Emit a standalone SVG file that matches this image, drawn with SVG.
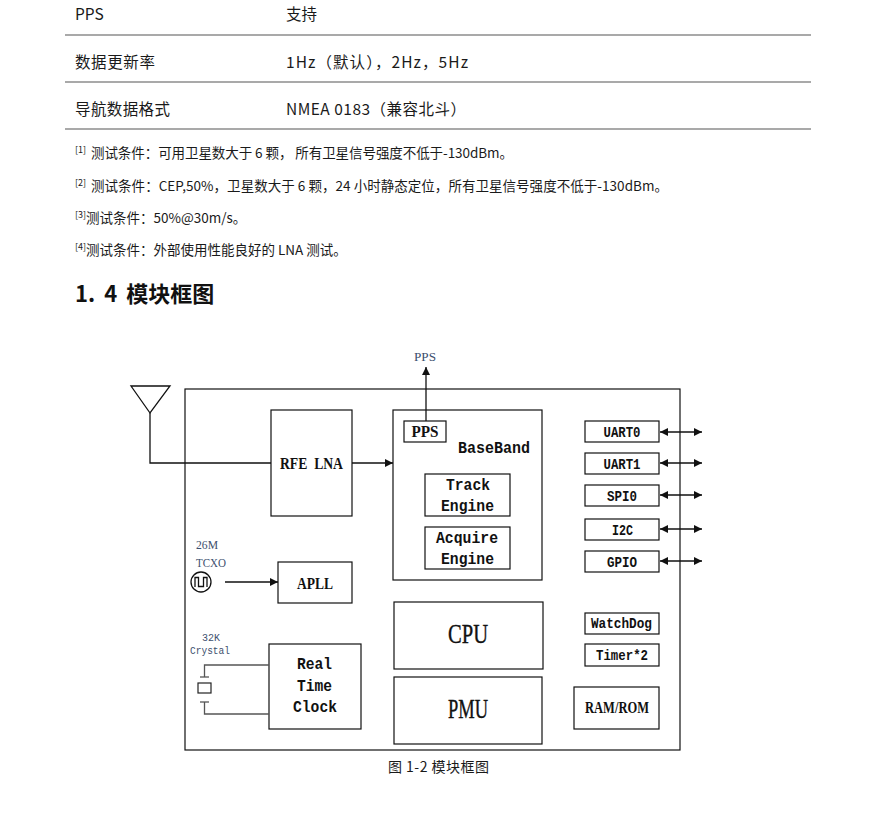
<svg xmlns="http://www.w3.org/2000/svg" width="877" height="837" viewBox="0 0 877 837">
<style>
.t{font-family:"Noto Sans CJK SC","Noto Sans",sans-serif;fill:#1a1a1a}
.b{font-size:15.5px}
.f{font-size:13.5px}
.sup{font-size:9px}
.h{font-size:22px;font-weight:bold;fill:#111}
.rule{stroke:#8c8c8c;stroke-width:1.3}
.box{fill:#fff;stroke:#111;stroke-width:1.2}
.lbl{font-family:"Liberation Serif",serif;font-weight:bold;fill:#111;text-anchor:middle}
.big{font-family:"Liberation Serif",serif;fill:#111;stroke:#111;stroke-width:0.4;text-anchor:middle}
.mono{font-family:"Liberation Mono",monospace;font-weight:bold;fill:#111;text-anchor:middle}
.ann{font-family:"Liberation Serif",serif;fill:#3d4f6e;text-anchor:middle}
.amono{font-family:"Liberation Mono",monospace;fill:#3d4f6e;text-anchor:middle}
.ln{stroke:#111;stroke-width:1.3;fill:none}
.gl{stroke:#555;stroke-width:1.3;fill:none}
</style>
<defs>
<marker id="ah" viewBox="0 0 10 10" refX="10" refY="5" markerWidth="9" markerHeight="8" markerUnits="userSpaceOnUse" orient="auto-start-reverse">
<path d="M0,0 L10,5 L0,10 z" fill="#111"/>
</marker>
</defs>
<rect width="877" height="837" fill="#fff"/>

<g id="table">
<text class="t b" x="75" y="20">PPS</text>
<text class="t b" x="286" y="20">支持</text>
<line class="rule" x1="65" y1="35" x2="811" y2="35"/>
<text class="t b" x="75" y="68" textLength="80">数据更新率</text>
<text class="t b" x="286" y="68" textLength="182">1Hz（默认），2Hz，5Hz</text>
<line class="rule" x1="65" y1="82" x2="811" y2="82"/>
<text class="t b" x="75" y="115" textLength="95">导航数据格式</text>
<text class="t b" x="286" y="115" textLength="180">NMEA 0183（兼容北斗）</text>
<line class="rule" x1="65" y1="129" x2="811" y2="129"/>
</g>

<g id="notes">
<text class="t sup" x="75" y="153">[1]</text>
<text class="t f" x="91" y="158" textLength="422">测试条件：可用卫星数大于 6 颗， 所有卫星信号强度不低于-130dBm。</text>
<text class="t sup" x="75" y="186">[2]</text>
<text class="t f" x="91" y="191" textLength="577">测试条件：CEP,50%，卫星数大于 6 颗，24 小时静态定位，所有卫星信号强度不低于-130dBm。</text>
<text class="t sup" x="75" y="218">[3]</text>
<text class="t f" x="86" y="223">测试条件：50%@30m/s。</text>
<text class="t sup" x="75" y="250">[4]</text>
<text class="t f" x="86" y="255">测试条件：外部使用性能良好的 LNA 测试。</text>
<text class="t h" x="75" y="302">1.<tspan dx="9">4</tspan><tspan dx="9">模块框图</tspan></text>
</g>

<g id="outer"><rect class="box" x="185" y="389" width="495" height="361" fill="none"/></g>

<g id="antenna">
<path class="ln" d="M131,386 L170,386 L150,413 Z"/>
</g>

<g id="rfe"><rect class="box" x="271" y="410" width="81" height="106"/>
<text class="lbl" x="311.5" y="469" font-size="17" textLength="63" lengthAdjust="spacingAndGlyphs" xml:space="preserve">RFE  LNA</text></g>

<g id="baseband"><rect class="box" x="393" y="410" width="149" height="170"/>
<text class="mono" x="494" y="453" font-size="16" textLength="72" lengthAdjust="spacingAndGlyphs">BaseBand</text></g>

<g id="pps"><rect class="box" x="404" y="421" width="42" height="21"/>
<text class="lbl" x="425" y="437" font-size="16" textLength="27" lengthAdjust="spacingAndGlyphs">PPS</text></g>

<g id="track"><rect class="box" x="425" y="474" width="85" height="42"/>
<text class="mono" x="468" y="490" font-size="16" textLength="44" lengthAdjust="spacingAndGlyphs">Track</text>
<text class="mono" x="467.5" y="511" font-size="16" textLength="53" lengthAdjust="spacingAndGlyphs">Engine</text></g>

<g id="acquire"><rect class="box" x="425" y="527" width="85" height="42"/>
<text class="mono" x="467" y="543" font-size="16" textLength="62" lengthAdjust="spacingAndGlyphs">Acquire</text>
<text class="mono" x="467.5" y="564" font-size="16" textLength="53" lengthAdjust="spacingAndGlyphs">Engine</text></g>

<g id="uart0"><rect class="box" x="585" y="421" width="74" height="21"/>
<text class="mono" x="622" y="436.5" font-size="14" textLength="37" lengthAdjust="spacingAndGlyphs">UART0</text></g>
<g id="uart1"><rect class="box" x="585" y="453" width="74" height="21"/>
<text class="mono" x="622" y="468.5" font-size="14" textLength="37" lengthAdjust="spacingAndGlyphs">UART1</text></g>
<g id="spi0"><rect class="box" x="585" y="485" width="74" height="21"/>
<text class="mono" x="622" y="500.5" font-size="14" textLength="30" lengthAdjust="spacingAndGlyphs">SPI0</text></g>
<g id="i2c"><rect class="box" x="585" y="519" width="74" height="21"/>
<text class="mono" x="622.5" y="534.5" font-size="14" textLength="21" lengthAdjust="spacingAndGlyphs">I2C</text></g>
<g id="gpio"><rect class="box" x="585" y="551" width="74" height="21"/>
<text class="mono" x="622" y="566.5" font-size="14" textLength="30" lengthAdjust="spacingAndGlyphs">GPIO</text></g>

<g id="apll"><rect class="box" x="278" y="562" width="74" height="41"/>
<text class="lbl" x="315" y="589" font-size="17" textLength="36" lengthAdjust="spacingAndGlyphs">APLL</text></g>

<g id="tcxo">
<text class="ann" x="207" y="549" font-size="13" textLength="22" lengthAdjust="spacingAndGlyphs">26M</text>
<text class="ann" x="211" y="567" font-size="13" textLength="30" lengthAdjust="spacingAndGlyphs">TCXO</text>
<circle cx="201" cy="582" r="10" fill="none" stroke="#111" stroke-width="1.3"/>
<path class="ln" d="M195,587 V577.5 H198.5 V586.5 H203.5 V577.5 H207 V587" stroke-width="1.2"/>
</g>

<g id="crystal">
<text class="amono" x="211" y="641" font-size="11" textLength="18" lengthAdjust="spacingAndGlyphs">32K</text>
<text class="amono" x="210" y="654" font-size="11" textLength="40" lengthAdjust="spacingAndGlyphs">Crystal</text>
<line class="gl" x1="200" y1="677" x2="209" y2="677"/>
<rect x="198" y="683" width="13" height="10" fill="#fff" stroke="#222" stroke-width="1.2"/>
<line class="gl" x1="200" y1="702" x2="209" y2="702"/>
</g>

<g id="rtc"><rect class="box" x="269" y="644" width="92" height="85"/>
<text class="mono" x="314.5" y="669" font-size="17" textLength="35" lengthAdjust="spacingAndGlyphs">Real</text>
<text class="mono" x="314.5" y="691" font-size="17" textLength="35" lengthAdjust="spacingAndGlyphs">Time</text>
<text class="mono" x="315" y="712" font-size="17" textLength="44" lengthAdjust="spacingAndGlyphs">Clock</text></g>

<g id="cpu"><rect class="box" x="394" y="602" width="149" height="67"/>
<text class="big" x="468" y="643" font-size="28" textLength="40" lengthAdjust="spacingAndGlyphs">CPU</text></g>

<g id="pmu"><rect class="box" x="394" y="677" width="148" height="67"/>
<text class="big" x="468" y="718" font-size="28" textLength="40" lengthAdjust="spacingAndGlyphs">PMU</text></g>

<g id="watchdog"><rect class="box" x="585" y="613" width="74" height="21"/>
<text class="mono" x="621.5" y="628" font-size="14" textLength="61" lengthAdjust="spacingAndGlyphs">WatchDog</text></g>
<g id="timer"><rect class="box" x="585" y="644" width="74" height="22"/>
<text class="mono" x="622" y="660" font-size="14" textLength="52" lengthAdjust="spacingAndGlyphs">Timer*2</text></g>
<g id="ramrom"><rect class="box" x="574" y="687" width="85" height="42"/>
<text class="lbl" x="617" y="713" font-size="17" textLength="64" lengthAdjust="spacingAndGlyphs">RAM/ROM</text></g>

<g id="ppslabel"><text class="ann" x="425" y="361" font-size="12.5" textLength="22" lengthAdjust="spacingAndGlyphs">PPS</text></g>

<g id="connectors">
<path class="ln" d="M150,413 V463 H271"/>
<line class="ln" x1="352" y1="463" x2="393" y2="463" marker-end="url(#ah)"/>
<line class="ln" x1="426" y1="421" x2="426" y2="367" marker-end="url(#ah)"/>
<line class="ln" x1="225" y1="582" x2="278" y2="582" marker-end="url(#ah)"/>
<line class="ln" x1="660" y1="432" x2="702" y2="432" marker-start="url(#ah)" marker-end="url(#ah)"/>
<line class="ln" x1="660" y1="463" x2="702" y2="463" marker-start="url(#ah)" marker-end="url(#ah)"/>
<line class="ln" x1="660" y1="495" x2="702" y2="495" marker-start="url(#ah)" marker-end="url(#ah)"/>
<line class="ln" x1="660" y1="529" x2="702" y2="529" marker-start="url(#ah)" marker-end="url(#ah)"/>
<line class="ln" x1="660" y1="561" x2="702" y2="561" marker-start="url(#ah)" marker-end="url(#ah)"/>
<path class="gl" d="M204.5,677 V665 H269"/>
<path class="gl" d="M204.5,702 V714 H269"/>
</g>

<g id="caption"><text class="t" x="388" y="772" font-size="14" textLength="101">图 1-2 模块框图</text></g>
</svg>
